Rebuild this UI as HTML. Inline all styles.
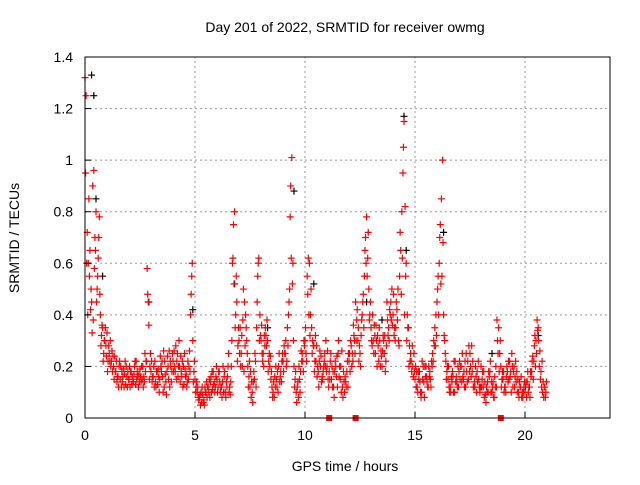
<!DOCTYPE html>
<html><head><meta charset="utf-8"><style>
body{margin:0;background:#fff;}
svg text{font-family:"Liberation Sans",sans-serif;font-size:14px;fill:#000;}
</style></head><body>
<svg width="640" height="480">
<rect width="640" height="480" fill="#fff"/>
<text x="345" y="32" text-anchor="middle">Day 201 of 2022, SRMTID for receiver owmg</text>
<text x="345" y="471" text-anchor="middle">GPS time / hours</text>
<text transform="translate(19,238) rotate(-90)" text-anchor="middle">SRMTID / TECUs</text>
<g id="grid"></g>
<g id="marks"></g>
<rect x="85" y="57" width="525" height="361" fill="none" stroke="#000"/>
<g id="axes"></g>
</svg>
<script>
const xTicks=[0,5,10,15,20];
const yTicks=[0,0.2,0.4,0.6,0.8,1,1.2,1.4];
const yTickLabels=["0","0.2","0.4","0.6","0.8","1","1.2","1.4"];
const seriesAStart=0, seriesStep=0.1;
const seriesA=[1.32,0.72,0.55,0.45,0.96,0.80,0.62,0.40,0.35,0.30,
0.33,0.25,0.22,0.20,0.18,0.16,0.15,0.14,0.17,0.16,
0.15,0.18,0.14,0.13,0.16,0.19,0.15,0.14,0.22,0.36,
0.18,0.16,0.14,0.13,0.15,0.22,0.12,0.09,0.15,0.20,
0.22,0.18,0.25,0.20,0.16,0.13,0.17,0.15,0.40,0.30,
0.15,0.10,0.08,0.06,0.07,0.10,0.12,0.14,0.11,0.10,
0.15,0.18,0.12,0.10,0.08,0.20,0.09,0.60,0.80,0.45,
0.30,0.25,0.50,0.40,0.20,0.12,0.10,0.15,0.35,0.62,
0.30,0.25,0.35,0.30,0.20,0.12,0.08,0.15,0.20,0.18,
0.22,0.25,0.35,0.50,1.01,0.20,0.10,0.08,0.18,0.22,
0.30,0.55,0.60,0.35,0.28,0.22,0.18,0.20,0.15,0.25,
0.20,0.18,0.15,0.12,0.20,0.25,0.15,0.12,0.10,0.18,
0.22,0.28,0.36,0.45,0.30,0.25,0.40,0.55,0.78,0.50,
0.35,0.30,0.25,0.32,0.30,0.20,0.25,0.28,0.35,0.45,
0.40,0.30,0.38,0.55,0.80,1.15,0.60,0.35,0.25,0.20,
0.15,0.12,0.18,0.10,0.14,0.20,0.12,0.15,0.25,0.35,
0.45,0.60,0.85,0.40,0.22,0.15,0.12,0.18,0.10,0.14,
0.18,0.20,0.15,0.12,0.22,0.25,0.18,0.14,0.10,0.15,
0.20,0.12,0.09,0.14,0.18,0.10,0.08,0.12,0.35,0.20,
0.15,0.12,0.18,0.22,0.25,0.20,0.14,0.10,0.12,0.08,
0.10,0.14,0.12,0.18,0.22,0.30,0.35,0.15,0.10,0.12];
const seriesBStart=0.05;
const seriesB=[1.25,0.60,0.42,0.90,0.70,0.50,0.78,0.32,0.25,0.28,
0.22,0.30,0.18,0.24,0.14,0.20,0.12,0.19,0.13,0.18,
0.12,0.16,0.20,0.15,0.17,0.14,0.12,0.18,0.48,0.20,
0.14,0.12,0.18,0.16,0.20,0.10,0.17,0.24,0.12,0.18,
0.26,0.15,0.20,0.24,0.12,0.19,0.14,0.26,0.55,0.18,
0.12,0.08,0.05,0.09,0.12,0.08,0.15,0.10,0.13,0.16,
0.12,0.10,0.14,0.18,0.12,0.10,0.20,0.75,0.40,0.28,
0.35,0.20,0.45,0.30,0.16,0.08,0.14,0.22,0.55,0.40,
0.25,0.32,0.28,0.22,0.15,0.10,0.12,0.18,0.14,0.22,
0.28,0.20,0.40,0.90,0.60,0.15,0.12,0.15,0.22,0.30,
0.25,0.62,0.40,0.30,0.22,0.16,0.22,0.14,0.20,0.30,
0.15,0.22,0.12,0.18,0.24,0.16,0.10,0.18,0.14,0.12,
0.18,0.25,0.30,0.38,0.22,0.32,0.48,0.70,0.62,0.40,
0.28,0.36,0.30,0.22,0.26,0.32,0.18,0.38,0.42,0.50,
0.32,0.45,0.30,0.65,0.95,0.82,0.40,0.28,0.18,0.25,
0.12,0.18,0.10,0.15,0.20,0.14,0.16,0.22,0.30,0.40,
0.55,0.75,1.00,0.30,0.18,0.12,0.16,0.10,0.14,0.20,
0.15,0.25,0.12,0.18,0.28,0.16,0.12,0.20,0.14,0.10,
0.15,0.08,0.12,0.18,0.10,0.14,0.12,0.30,0.25,0.15,
0.10,0.16,0.22,0.18,0.12,0.16,0.10,0.14,0.08,0.12,
0.14,0.10,0.18,0.24,0.32,0.38,0.20,0.12,0.08,0.10];
const seriesCStart=0.025;
const seriesC=[0.95,0.40,0.65,0.33,0.58,0.45,0.70,0.28,0.22,0.35,
0.18,0.22,0.26,0.15,0.22,0.12,0.20,0.16,0.22,0.12,
0.20,0.13,0.17,0.22,0.12,0.16,0.20,0.25,0.58,0.15,
0.22,0.20,0.12,0.19,0.24,0.16,0.22,0.18,0.26,0.14,
0.18,0.28,0.16,0.14,0.22,0.25,0.12,0.20,0.48,0.14,
0.10,0.12,0.09,0.12,0.05,0.14,0.10,0.16,0.18,0.12,
0.10,0.14,0.08,0.16,0.14,0.25,0.14,0.62,0.35,0.22,
0.25,0.32,0.18,0.35,0.12,0.18,0.06,0.25,0.45,0.30,
0.36,0.20,0.32,0.18,0.24,0.08,0.16,0.12,0.25,0.14,
0.18,0.30,0.28,0.78,0.52,0.12,0.06,0.20,0.26,0.18,
0.35,0.48,0.32,0.25,0.18,0.28,0.12,0.24,0.18,0.20,
0.26,0.15,0.20,0.08,0.16,0.30,0.20,0.08,0.16,0.22,
0.25,0.20,0.32,0.30,0.35,0.20,0.45,0.65,0.55,0.38,
0.30,0.25,0.36,0.28,0.20,0.26,0.32,0.45,0.30,0.38,
0.48,0.35,0.50,0.72,0.62,0.40,0.30,0.20,0.22,0.16,
0.20,0.10,0.14,0.22,0.08,0.16,0.20,0.12,0.22,0.28,
0.50,0.70,0.55,0.32,0.15,0.20,0.10,0.16,0.22,0.12,
0.22,0.14,0.18,0.25,0.15,0.20,0.22,0.12,0.18,0.12,
0.12,0.18,0.06,0.10,0.22,0.12,0.16,0.38,0.18,0.12,
0.18,0.10,0.14,0.16,0.20,0.12,0.18,0.08,0.16,0.10,
0.12,0.18,0.08,0.22,0.28,0.25,0.30,0.18,0.14,0.08];
const seriesDStart=0.075;
const seriesD=[0.60,0.85,0.50,0.38,0.65,0.55,0.48,0.36,0.30,0.24,
0.28,0.20,0.24,0.18,0.16,0.22,0.18,0.12,0.20,0.15,
0.18,0.14,0.22,0.18,0.14,0.20,0.16,0.22,0.45,0.25,
0.16,0.22,0.18,0.10,0.18,0.26,0.14,0.20,0.22,0.25,
0.20,0.22,0.30,0.18,0.20,0.16,0.22,0.18,0.60,0.22,
0.14,0.07,0.10,0.06,0.10,0.12,0.08,0.18,0.14,0.20,
0.18,0.12,0.20,0.10,0.16,0.12,0.30,0.52,0.55,0.35,
0.20,0.38,0.28,0.25,0.22,0.14,0.18,0.12,0.60,0.32,
0.22,0.28,0.38,0.25,0.18,0.14,0.20,0.10,0.16,0.25,
0.25,0.22,0.45,0.62,0.30,0.18,0.14,0.10,0.25,0.28,
0.22,0.40,0.50,0.28,0.32,0.20,0.26,0.16,0.22,0.18,
0.12,0.25,0.18,0.22,0.12,0.20,0.26,0.14,0.12,0.25,
0.30,0.22,0.25,0.42,0.28,0.38,0.35,0.60,0.72,0.45,
0.40,0.32,0.20,0.35,0.24,0.30,0.22,0.32,0.40,0.36,
0.35,0.42,0.28,0.48,1.05,0.55,0.35,0.22,0.28,0.18,
0.18,0.15,0.08,0.20,0.16,0.12,0.18,0.20,0.28,0.32,
0.40,0.52,0.68,0.25,0.20,0.10,0.14,0.22,0.16,0.12,
0.20,0.16,0.22,0.14,0.18,0.28,0.12,0.16,0.22,0.12,
0.18,0.14,0.10,0.16,0.14,0.08,0.20,0.25,0.30,0.18,
0.12,0.20,0.15,0.10,0.18,0.22,0.15,0.12,0.10,0.14,
0.08,0.12,0.16,0.15,0.20,0.34,0.26,0.22,0.12,0.14];
const blackT=[0.3,0.4,0.5,0.8,2.9,4.9,6.8,8.3,9.5,10.4,12.8,13.5,14.5,14.6,16.3,18.5,20.6];
const blackV=[1.33,1.25,0.85,0.55,0.45,0.42,0.52,0.35,0.88,0.52,0.45,0.38,1.17,0.65,0.72,0.25,0.32];
const zeroT=[11.1,12.3,18.9];
const X0=85,X1=613,Y0=418,Y1=57;
const xs=h=>X0+h/24*(X1-X0);
const ys=v=>Y0-v/1.4*(Y0-Y1);
const NS="http://www.w3.org/2000/svg";
const grid=document.getElementById('grid'),axes=document.getElementById('axes'),marks=document.getElementById('marks');
function mk(tag,at,parent){const e=document.createElementNS(NS,tag);for(const k in at)e.setAttribute(k,at[k]);parent.appendChild(e);return e;}
xTicks.forEach(t=>{const x=xs(t);
 if(t>0){const g=mk('line',{x1:x,x2:x,y1:Y0,y2:Y1,stroke:'#999','stroke-dasharray':'2,3'},grid);
 
 }
 const tk=mk('line',{x1:x,x2:x,y1:Y0,y2:Y0-6,stroke:'#000'},axes);
 
 
 const tx=mk('text',{x:x,y:Y0+22,'text-anchor':'middle'},axes);tx.textContent=String(t);
 
 
});
yTicks.forEach((t,i)=>{const y=ys(t);
 if(t>0&&t<1.4){const g=mk('line',{x1:X0,x2:610,y1:y,y2:y,stroke:'#999','stroke-dasharray':'2,3'},grid);
 
 }
 const tk=mk('line',{x1:X0,x2:X0+6,y1:y,y2:y,stroke:'#000'},axes);
 
 
 const tx=mk('text',{x:X0-12,y:y+5,'text-anchor':'end'},axes);tx.textContent=yTickLabels[i];
 
 
});
function plus(h,v,col){const x=xs(h),y=ys(v);
 const p=mk('path',{d:`M${x-3.5},${y}h7M${x},${y-3.5}v7`,stroke:col,'stroke-width':1.2,fill:'none'},marks);
 
 }
blackT.forEach((t,i)=>plus(t,blackV[i],'#000'));
seriesA.forEach((v,i)=>plus(seriesAStart+i*seriesStep,v,'#f00'));
seriesB.forEach((v,i)=>plus(seriesBStart+i*seriesStep,v,'#f00'));
seriesC.forEach((v,i)=>plus(seriesCStart+i*seriesStep,v,'#f00'));
seriesD.forEach((v,i)=>plus(seriesDStart+i*seriesStep,v,'#f00'));
zeroT.forEach(t=>{const r=mk('rect',{x:xs(t)-3,y:Y0-3,width:6,height:6,fill:'#f00'},marks);
 
 });
</script>
</body></html>
